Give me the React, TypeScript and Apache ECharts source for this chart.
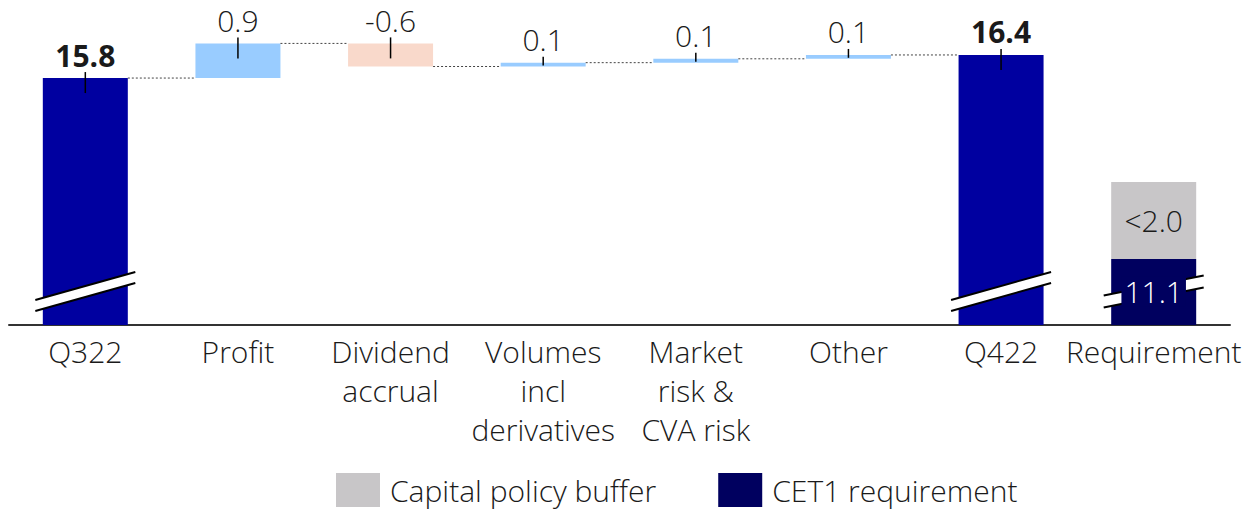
import React, { useEffect, useRef } from "react";
import * as echarts from "echarts";

const categories = [
  "Q322",
  "Profit",
  "Dividend\naccrual",
  "Volumes\nincl\nderivatives",
  "Market\nrisk &\nCVA risk",
  "Other",
  "Q422",
  "Requirement",
];
const startValue = 15.8;
const deltas = [0.9, -0.6, 0.1, 0.1, 0.1];
const endValue = 16.4;
const cet1Requirement = 11.1;
const capitalBuffer = 2.0;
const capitalBufferLabel = "<2.0";
const axisMin = 9.386;
const axisMax = 17.282;
const breakLevel = 10.256;

const FONT = "'Open Sans', 'Noto Sans', sans-serif";
const LIGHT = 300;
const C_TOTAL = "#0000A0";
const C_UP = "#99CCFF";
const C_DOWN = "#F9D9CB";
const C_REQ = "#00005F";
const C_BUF = "#C8C6C8";
const C_TEXT = "#1a1a1a";

export default function App() {
  const ref = useRef<HTMLDivElement>(null);
  useEffect(() => {
    if (!ref.current) return;
    const chart = echarts.init(ref.current, null, { renderer: "svg" });
    const n = categories.length;
    const base: any[] = Array(n).fill("-");
    const inc: any[] = Array(n).fill("-");
    const dec: any[] = Array(n).fill("-");
    const total: any[] = Array(n).fill("-");
    const req: any[] = Array(n).fill("-");
    const buf: any[] = Array(n).fill("-");
    total[0] = startValue;
    total[6] = endValue;
    req[7] = cet1Requirement;
    buf[7] = capitalBuffer;
    let run = startValue;
    const ticks: number[][] = [[0, startValue, 0]];
    const connectors: number[][] = [[0, startValue]];
    deltas.forEach((d, k) => {
      const i = k + 1;
      const next = +(run + d).toFixed(4);
      const lo = Math.min(run, next);
      const hi = Math.max(run, next);
      base[i] = lo;
      if (d >= 0) inc[i] = +(hi - lo).toFixed(4);
      else dec[i] = +(hi - lo).toFixed(4);
      ticks.push([i, hi, lo]);
      run = next;
      connectors.push([i, run]);
    });
    ticks.push([6, endValue, 0]);
    const breaks = [
      [0, breakLevel],
      [6, breakLevel],
      [7, breakLevel],
    ];

    const valueLabel = {
      show: true,
      position: "top",
      distance: 9,
      fontFamily: FONT,
      fontWeight: LIGHT,
      fontSize: 30,
      lineHeight: 28,
      color: C_TEXT,
    };

    const option: any = {
      animation: false,
      textStyle: { fontFamily: FONT },
      grid: { left: 9, right: 20, top: 21, bottom: 184, containLabel: false },
      legend: {
        left: 336,
        top: 473,
        padding: 0,
        itemWidth: 44,
        itemHeight: 34,
        itemGap: 62,
        icon: "rect",
        selectedMode: false,
        data: ["Capital policy buffer", "CET1 requirement"],
        textStyle: {
          fontFamily: FONT,
          fontWeight: LIGHT,
          fontSize: 30,
          lineHeight: 34,
          color: C_TEXT,
          padding: [0, 0, 0, 5],
        },
      },
      xAxis: {
        type: "category",
        data: categories,
        axisLine: { show: true, lineStyle: { color: "#333", width: 2 } },
        axisTick: { show: false },
        axisLabel: {
          interval: 0,
          margin: 7,
          fontFamily: FONT,
          fontWeight: LIGHT,
          fontSize: 30,
          lineHeight: 39,
          color: C_TEXT,
        },
      },
      yAxis: {
        type: "value",
        show: false,
        min: axisMin,
        max: axisMax,
        splitLine: { show: false },
      },
      series: [
        {
          name: "base",
          type: "bar",
          stack: "w",
          barWidth: 85,
          data: base,
          itemStyle: { color: "transparent" },
          silent: true,
        },
        {
          name: "total",
          type: "bar",
          stack: "w",
          data: total,
          itemStyle: { color: C_TOTAL },
          label: {
            ...valueLabel,
            fontWeight: "bold",
            formatter: (p: any) => Number(p.value).toFixed(1),
          },
        },
        {
          name: "increase",
          type: "bar",
          stack: "w",
          data: inc,
          itemStyle: { color: C_UP },
          label: {
            ...valueLabel,
            formatter: (p: any) => deltas[p.dataIndex - 1].toFixed(1),
          },
        },
        {
          name: "decrease",
          type: "bar",
          stack: "w",
          data: dec,
          itemStyle: { color: C_DOWN },
          label: {
            ...valueLabel,
            formatter: (p: any) => deltas[p.dataIndex - 1].toFixed(1),
          },
        },
        {
          name: "CET1 requirement",
          type: "bar",
          stack: "w",
          data: req,
          itemStyle: { color: C_REQ },
        },
        {
          name: "Capital policy buffer",
          type: "bar",
          stack: "w",
          data: buf,
          itemStyle: { color: C_BUF },
          label: {
            show: true,
            position: "inside",
            fontFamily: FONT,
            fontWeight: LIGHT,
            fontSize: 30,
            color: C_TEXT,
            formatter: () => capitalBufferLabel,
          },
        },
        {
          name: "connectors",
          type: "custom",
          z: 3,
          silent: true,
          data: connectors,
          encode: { x: 0, y: 1 },
          renderItem: (params: any, api: any) => {
            const i = api.value(0);
            const c = api.coord([i, api.value(1)]);
            const bw = api.size([1, 0])[0];
            const half = 42.5;
            return {
              type: "line",
              shape: { x1: c[0] + half, y1: c[1], x2: c[0] + bw - half, y2: c[1] },
              style: { stroke: "#444", lineWidth: 1, lineDash: [2, 2] },
            };
          },
        },
        {
          name: "breaks",
          type: "custom",
          z: 4,
          silent: true,
          clip: false,
          data: breaks,
          encode: { x: 0, y: 1 },
          renderItem: (params: any, api: any) => {
            const i = api.value(0);
            const c = api.coord([i, api.value(1)]);
            const hw = 50;
            const s = i === 7 ? 0.2 : 0.28;
            const th = i === 7 ? 12 : 11;
            const xl = c[0] - hw;
            const xr = c[0] + hw;
            const yl = c[1] + hw * s - th / 2;
            const yr = c[1] - hw * s - th / 2;
            return {
              type: "group",
              children: [
                {
                  type: "polygon",
                  shape: { points: [[xl, yl], [xr, yr], [xr, yr + th], [xl, yl + th]] },
                  style: { fill: "#fff" },
                },
                {
                  type: "line",
                  shape: { x1: xl, y1: yl, x2: xr, y2: yr },
                  style: { stroke: "#000", lineWidth: 2 },
                },
                {
                  type: "line",
                  shape: { x1: xl, y1: yl + th, x2: xr, y2: yr + th },
                  style: { stroke: "#000", lineWidth: 2 },
                },
              ],
            };
          },
        },
        {
          name: "ticks",
          type: "custom",
          z: 5,
          silent: true,
          data: ticks,
          encode: { x: 0, y: 1 },
          renderItem: (params: any, api: any) => {
            const i = api.value(0);
            const top = api.coord([i, api.value(1)]);
            const bot = api.coord([i, api.value(2)]);
            const y1 = top[1] - 6;
            const y2 = Math.min(top[1] + 15, bot[1] - 1);
            return {
              type: "line",
              shape: { x1: top[0], y1, x2: top[0], y2 },
              style: { stroke: "#000", lineWidth: 1.5 },
            };
          },
        },
        {
          name: "reqLabel",
          type: "scatter",
          z: 10,
          silent: true,
          symbolSize: 1,
          itemStyle: { color: "transparent", opacity: 1 },
          data: [[7, breakLevel]],
          label: {
            show: true,
            position: "inside",
            opacity: 1,
            fontFamily: FONT,
            fontWeight: LIGHT,
            fontSize: 30,
            color: "#fff",
            backgroundColor: C_REQ,
            padding: [0, 3],
            formatter: () => cet1Requirement.toFixed(1),
          },
        },
      ],
    };
    chart.setOption(option);
    return () => chart.dispose();
  }, []);
  return (
    <div
      ref={ref}
      style={{ position: "fixed", left: 0, top: 0, width: 1250, height: 509, background: "#fff" }}
    />
  );
}
